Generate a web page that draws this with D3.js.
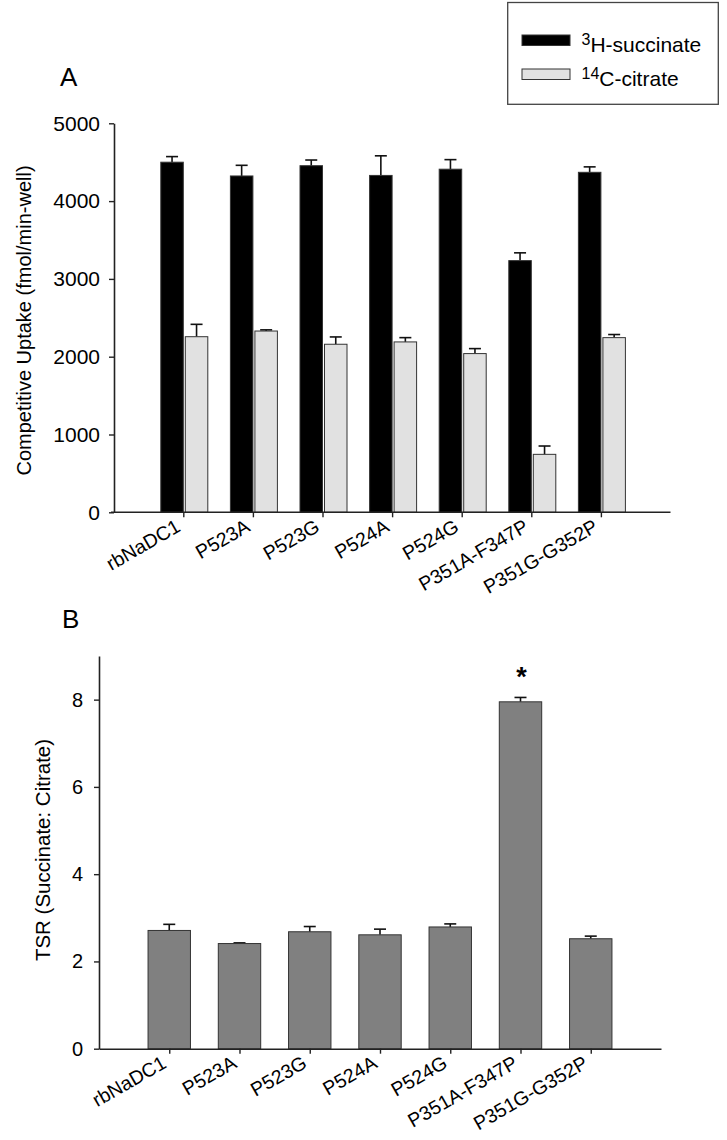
<!DOCTYPE html>
<html>
<head>
<meta charset="utf-8">
<script src="https://cdn.jsdelivr.net/npm/d3@7"></script>
<style>
  html, body { margin: 0; padding: 0; background: #fff; }
  svg { display: block; }
  text { font-family: "Liberation Sans", Arial, sans-serif; fill: #000; }
</style>
</head>
<body>
<svg id="chart" width="727" height="1140"></svg>
<script>
// ---------------- data ----------------
const categories = ["rbNaDC1", "P523A", "P523G", "P524A", "P524G", "P351A-F347P", "P351G-G352P"];
const succinate    = [4500, 4323, 4455, 4330, 4410, 3235, 4370];
const succinateErr = [72, 137, 73, 252, 123, 100, 70];
const citrate      = [2257, 2330, 2160, 2190, 2040, 745, 2245];
const citrateErr   = [159, 15, 94, 55, 64, 107, 40];
const tsr          = [2.71, 2.41, 2.68, 2.61, 2.79, 7.95, 2.52];
const tsrErr       = [0.14, 0.015, 0.12, 0.13, 0.07, 0.10, 0.06];
const yTicksA = [0, 1000, 2000, 3000, 4000, 5000];
const yTicksB = [0, 2, 4, 6, 8];
const seriesNames = ["H-succinate", "C-citrate"];
const seriesSup = ["3", "14"];
const titleA = "Competitive Uptake (fmol/min-well)";
const titleB = "TSR (Succinate: Citrate)";

// ---------------- layout ----------------
const svg = d3.select("#chart");
svg.append("rect").attr("width", 727).attr("height", 1140).attr("fill", "#fff");

const AX = 114, A_top = 123.3, A_bottom = 512.3, A_right = 670.5;
const BX = 99,  B_top = 656,   B_bottom = 1048.7, B_right = 661;

const xA = d3.scalePoint().domain(categories).range([AX - 0.3, A_right]).padding(1);
const yA = d3.scaleLinear().domain([0, 5000]).range([A_bottom, A_top]);
const xB = d3.scalePoint().domain(categories).range([BX, B_right]).padding(1);
const yB = d3.scaleLinear().domain([0, 9]).range([B_bottom, B_top]);

const axisColor = "#222";
const FONT = "Liberation Sans, Arial, sans-serif";

function styleAxis(g) {
  g.selectAll("path.domain").attr("stroke", axisColor).attr("stroke-width", 1.6);
  g.selectAll(".tick line").attr("stroke", axisColor).attr("stroke-width", 1.4);
}
function errBar(g, cx, yTop, yErr, color) {
  g.append("line").attr("x1", cx).attr("x2", cx).attr("y1", yTop).attr("y2", yErr)
    .attr("stroke", color).attr("stroke-width", 1.6);
  g.append("line").attr("x1", cx - 6).attr("x2", cx + 6).attr("y1", yErr).attr("y2", yErr)
    .attr("stroke", color).attr("stroke-width", 1.6);
}
function styleXLabels(ax) {
  ax.selectAll("text")
    .attr("font-size", 19.5).attr("font-family", FONT).attr("fill", "#000")
    .attr("text-anchor", "end").attr("x", 0).attr("y", 0).attr("dy", "0.71em")
    .attr("transform", "translate(-9,6) rotate(-30)");
}

// ---------- Panel A ----------
const gA = svg.append("g");
const barW = 22.5;
categories.forEach((c, i) => {
  const cx = xA(c);
  errBar(gA, cx - barW / 2, yA(succinate[i]), yA(succinate[i] + succinateErr[i]), "#111");
  errBar(gA, cx + 2 + barW / 2, yA(citrate[i]), yA(citrate[i] + citrateErr[i]), "#111");
});
gA.selectAll("rect.succ").data(categories).join("rect").attr("class", "succ")
  .attr("x", (c) => xA(c) - barW)
  .attr("width", barW)
  .attr("y", (c, i) => yA(succinate[i]))
  .attr("height", (c, i) => yA(0) - yA(succinate[i]))
  .attr("fill", "#000").attr("stroke", "#333").attr("stroke-width", 1);
gA.selectAll("rect.cit").data(categories).join("rect").attr("class", "cit")
  .attr("x", (c) => xA(c) + 2)
  .attr("width", barW)
  .attr("y", (c, i) => yA(citrate[i]))
  .attr("height", (c, i) => yA(0) - yA(citrate[i]))
  .attr("fill", "#e1e1e1").attr("stroke", "#333").attr("stroke-width", 1);

const yAxA = gA.append("g").attr("transform", `translate(${AX},0)`)
  .call(d3.axisLeft(yA).tickValues(yTicksA).tickSize(5).tickSizeOuter(0).tickPadding(9).tickFormat(d3.format("d")));
styleAxis(yAxA);
yAxA.selectAll("text").attr("font-size", 21).attr("font-family", FONT).attr("fill", "#000");

const xAxA = gA.append("g").attr("transform", `translate(0,${A_bottom})`)
  .call(d3.axisBottom(xA).tickSize(5).tickSizeOuter(0));
xAxA.select("path.domain").attr("d", `M${AX - 3},0H${A_right}`);
styleAxis(xAxA);
styleXLabels(xAxA);

gA.append("text").attr("transform", `translate(31,${(163 + 478) / 2}) rotate(-90)`)
  .attr("text-anchor", "middle").attr("font-size", 20).text(titleA);

gA.append("text").attr("x", 60).attr("y", 86).attr("font-size", 26).text("A");

// legend
const lg = svg.append("g");
lg.append("rect").attr("x", 507.7).attr("y", 2.5).attr("width", 210.6).attr("height", 101.8)
  .attr("fill", "#fff").attr("stroke", "#444").attr("stroke-width", 1.3);
const legFill = ["#000", "#e1e1e1"];
const legY = [35, 69];
seriesNames.forEach((n, i) => {
  lg.append("rect").attr("x", 522).attr("y", legY[i]).attr("width", 48).attr("height", 10.5)
    .attr("fill", legFill[i]).attr("stroke", "#333").attr("stroke-width", 1);
  const t = lg.append("text").attr("x", 581.5).attr("y", legY[i] + 16.5).attr("font-size", 21);
  t.append("tspan").attr("font-size", 16).attr("dy", -7).text(seriesSup[i]);
  t.append("tspan").attr("dy", 7).text(n);
});

// ---------- Panel B ----------
const gB = svg.append("g");
const barWB = 42.4;
categories.forEach((c, i) => {
  errBar(gB, xB(c), yB(tsr[i]), yB(tsr[i] + tsrErr[i]), "#111");
});
gB.selectAll("rect.tsr").data(categories).join("rect").attr("class", "tsr")
  .attr("x", (c) => xB(c) - barWB / 2)
  .attr("width", barWB)
  .attr("y", (c, i) => yB(tsr[i]))
  .attr("height", (c, i) => yB(0) - yB(tsr[i]))
  .attr("fill", "#808080").attr("stroke", "#333").attr("stroke-width", 1);

const yAxB = gB.append("g").attr("transform", `translate(${BX},0)`)
  .call(d3.axisLeft(yB).tickValues(yTicksB).tickSize(5).tickSizeOuter(0).tickPadding(11));
styleAxis(yAxB);
yAxB.selectAll("text").attr("font-size", 20).attr("font-family", FONT).attr("fill", "#000");

const xAxB = gB.append("g").attr("transform", `translate(0,${B_bottom})`)
  .call(d3.axisBottom(xB).tickSize(5).tickSizeOuter(0));
styleAxis(xAxB);
styleXLabels(xAxB);

gB.append("text").attr("transform", `translate(50,850) rotate(-90)`)
  .attr("text-anchor", "middle").attr("font-size", 20.5).text(titleB);

gB.append("text").attr("x", 62).attr("y", 628).attr("font-size", 26).text("B");

// significance marker
const sigIdx = 5;
gB.append("text").attr("x", xB(categories[sigIdx]) + 1)
  .attr("y", yB(tsr[sigIdx] + tsrErr[sigIdx]) - 11)
  .attr("text-anchor", "middle").attr("font-size", 27).attr("font-weight", "bold").text("*");
</script>
</body>
</html>
